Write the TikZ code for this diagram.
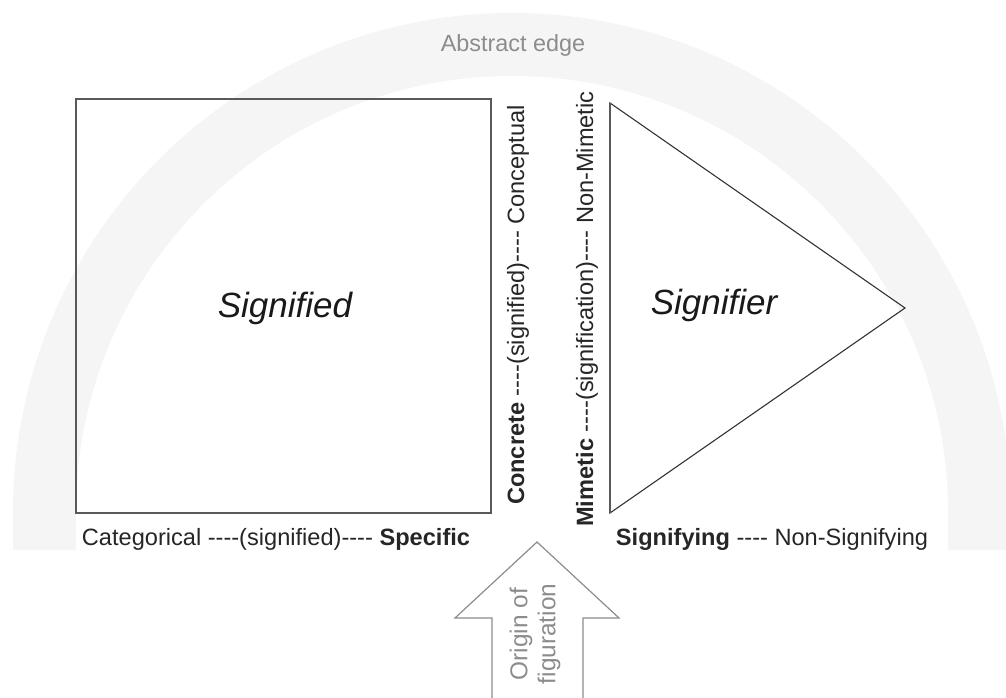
\documentclass[tikz,border=0pt]{standalone}
\usepackage{fontspec}
\setmainfont{Liberation Sans}[Ligatures=TeXOff]
\begin{document}
\begin{tikzpicture}[x=0.5pt,y=0.5pt,
  lbl/.style={inner sep=0pt, text=black!85, font=\fontsize{11.8pt}{13pt}\selectfont},
  big/.style={inner sep=0pt, text=black!90, font=\fontsize{17.5pt}{20pt}\selectfont\itshape},
  shapeline/.style={draw=black!65, line width=0.75pt},
  band/.style={fill=black!4}]
\useasboundingbox (0,0) rectangle (1006,697);
\clip (0,0) rectangle (1006,697);
% abstract edge band
\fill[band] (13,147) -- (13,185) arc[start angle=180,end angle=0,radius=499] -- (1011,147) -- (948,147) -- (948,185) arc[start angle=0,end angle=180,radius=436] -- (76,147) -- cycle;
\node[inner sep=0pt, text=black!45, font=\fontsize{11.7pt}{13pt}\selectfont] (abs) at (513,652) {Abstract edge};
% signified square
\draw[shapeline] (76,598) rectangle (491,184);
\node[big] (sd) at (285,389) {Signified};
% signifier triangle
\draw[draw=black!80, line width=0.55pt] (610,594) -- (905,389) -- (610,184) -- cycle;
\draw[shapeline] (610,594) -- (610,184);
\node[big] (sr) at (714,392) {Signifier};
% vertical labels
\node[lbl, rotate=90] (v1) at (518,392) {\textbf{Concrete} ----(signified)---- Conceptual};
\node[lbl, rotate=90] (v2) at (587,388) {\textbf{Mimetic} ----(signification)---- Non-Mimetic};
% bottom labels
\node[lbl, anchor=base] (b1) at (276,152) {Categorical ----(signified)---- \textbf{Specific}};
\node[lbl, anchor=base] (b2) at (772,152) {\textbf{Signifying} ---- Non-Signifying};
% origin arrow
\draw[draw=black!45, line width=0.6pt] (537,155) -- (619,79) -- (583,79) -- (583,-5) -- (492,-5) -- (492,79) -- (455,79) -- cycle;
\node[inner sep=0pt, rotate=90, align=center, text=black!45, font=\fontsize{12.2pt}{14pt}\selectfont] (org) at (535,63) {Origin of\\figuration};
\end{tikzpicture}
\end{document}
